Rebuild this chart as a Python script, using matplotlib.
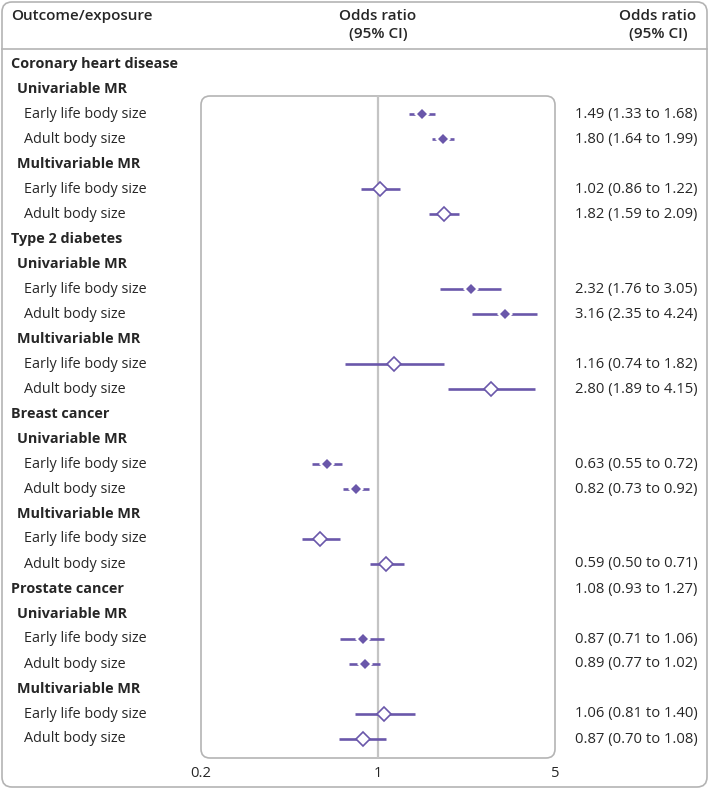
import matplotlib.pyplot as plt
import matplotlib.patches as mpatches
import numpy as np

plt.rcParams['font.family'] = ['Open Sans', 'DejaVu Sans']

# rows of the table, top to bottom: (label, level)
labels = [
    ("Coronary heart disease", 0), ("Univariable MR", 1),
    ("Early life body size", 2), ("Adult body size", 2),
    ("Multivariable MR", 1),
    ("Early life body size", 2), ("Adult body size", 2),
    ("Type 2 diabetes", 0), ("Univariable MR", 1),
    ("Early life body size", 2), ("Adult body size", 2),
    ("Multivariable MR", 1),
    ("Early life body size", 2), ("Adult body size", 2),
    ("Breast cancer", 0), ("Univariable MR", 1),
    ("Early life body size", 2), ("Adult body size", 2),
    ("Multivariable MR", 1),
    ("Early life body size", 2), ("Adult body size", 2),
    ("Prostate cancer", 0), ("Univariable MR", 1),
    ("Early life body size", 2), ("Adult body size", 2),
    ("Multivariable MR", 1),
    ("Early life body size", 2), ("Adult body size", 2),
]

# estimates, row index, filled (univariable) or open (multivariable)
est_rows = [2, 3, 5, 6, 9, 10, 12, 13, 16, 17, 19, 20, 23, 24, 26, 27]
or_vals = [1.49, 1.80, 1.02, 1.82, 2.32, 3.16, 1.16, 2.80,
           0.63, 0.82, 0.59, 1.08, 0.87, 0.89, 1.06, 0.87]
ci_low = [1.33, 1.64, 0.86, 1.59, 1.76, 2.35, 0.74, 1.89,
          0.55, 0.73, 0.50, 0.93, 0.71, 0.77, 0.81, 0.70]
ci_high = [1.68, 1.99, 1.22, 2.09, 3.05, 4.24, 1.82, 4.15,
           0.72, 0.92, 0.71, 1.27, 1.06, 1.02, 1.40, 1.08]
filled = [True, True, False, False, True, True, False, False,
          True, True, False, False, True, True, False, False]

# right-hand column text, as printed (row index, text)
value_rows = [2, 3, 5, 6, 9, 10, 12, 13, 16, 17, 20, 21, 23, 24, 26, 27]
value_text = ["1.49 (1.33 to 1.68)", "1.80 (1.64 to 1.99)",
              "1.02 (0.86 to 1.22)", "1.82 (1.59 to 2.09)",
              "2.32 (1.76 to 3.05)", "3.16 (2.35 to 4.24)",
              "1.16 (0.74 to 1.82)", "2.80 (1.89 to 4.15)",
              "0.63 (0.55 to 0.72)", "0.82 (0.73 to 0.92)",
              "0.59 (0.50 to 0.71)", "1.08 (0.93 to 1.27)",
              "0.87 (0.71 to 1.06)", "0.89 (0.77 to 1.02)",
              "1.06 (0.81 to 1.40)", "0.87 (0.70 to 1.08)"]

ticks = [0.2, 1, 5]
tick_labels = ["0.2", "1", "5"]

W, H = 709, 789
purple = '#6A57AA'
grey = '#b4b4b4'
txt = '#262626'
fs = 10.4

fig = plt.figure(figsize=(W / 100, H / 100), dpi=100)
bg = fig.add_axes([0, 0, 1, 1])
bg.set_xlim(0, W)
bg.set_ylim(H, 0)
bg.axis('off')

def row_y(i):
    return 64 + 25 * i

# outer rounded frame and header rule
frame = mpatches.FancyBboxPatch((2, 2), W - 4, H - 4,
                                boxstyle="round,pad=0,rounding_size=10",
                                linewidth=1.2, edgecolor=grey, facecolor='white')
bg.add_patch(frame)
bg.plot([2, W - 2], [49, 49], color=grey, lw=1.2)

# header
bg.text(11, 16, "Outcome/exposure", fontsize=11, fontweight='semibold',
        ha='left', va='center', color=txt)
for cx in (378, 658):
    bg.text(cx, 16, "Odds ratio", fontsize=11, fontweight='semibold',
            ha='center', va='center', color=txt)
    bg.text(cx, 34, "(95% CI)", fontsize=11, fontweight='semibold',
            ha='center', va='center', color=txt)

# left labels
indent = {0: 11, 1: 17, 2: 24}
for i, (lab, lvl) in enumerate(labels):
    bg.text(indent[lvl], row_y(i), lab, fontsize=fs,
            fontweight='bold' if lvl < 2 else 'normal',
            ha='left', va='center', color=txt)

# right values
for r, t in zip(value_rows, value_text):
    bg.text(575, row_y(r), t, fontsize=10.6, ha='left', va='center', color=txt)

# plot box (rounded)
x0, x1, ytop, ybot = 201, 555, 96, 758
box = mpatches.FancyBboxPatch((x0, ytop), x1 - x0, ybot - ytop,
                              boxstyle="round,pad=0,rounding_size=9",
                              linewidth=1.2, edgecolor=grey, facecolor='none')
bg.add_patch(box)

# forest axes
ax = fig.add_axes([x0 / W, 1 - ybot / H, (x1 - x0) / W, (ybot - ytop) / H])
ax.set_xscale('log')
ax.set_xlim(0.2, 5)
ax.set_ylim((ybot - 64) / 25, (ytop - 64) / 25)
ax.patch.set_alpha(0)
for s in ax.spines.values():
    s.set_visible(False)
ax.set_yticks([])
ax.set_xticks(ticks)
ax.set_xticklabels(tick_labels, fontsize=10.6, color=txt)
ax.xaxis.set_minor_locator(plt.NullLocator())
ax.tick_params(axis='x', length=0, pad=6)
ax.axvline(1, color='#c4c4c4', lw=1.6, zorder=1)

for r, v, lo, hi, f in zip(est_rows, or_vals, ci_low, ci_high, filled):
    ax.plot([lo, hi], [r, r], color=purple, lw=1.9, solid_capstyle='butt', zorder=2)
    if f:
        ax.plot(v, r, marker='D', markersize=8.0, markerfacecolor='white',
                markeredgewidth=0, zorder=3)
        ax.plot(v, r, marker='D', markersize=5.6, markerfacecolor=purple,
                markeredgewidth=0, zorder=4)
    else:
        ax.plot(v, r, marker='D', markersize=6.8, markerfacecolor='white',
                markeredgecolor=purple, markeredgewidth=1.2, zorder=3)

fig.savefig('out.png', dpi=100)
